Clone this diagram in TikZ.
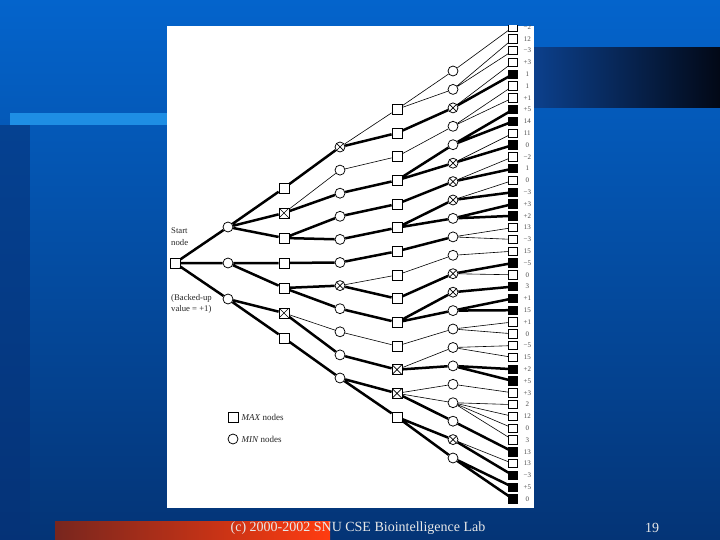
\documentclass[tikz,border=0pt]{standalone}
\usepackage{fontspec}
\setmainfont{Liberation Serif}
\usepackage{tikz}
\usetikzlibrary{positioning}

\definecolor{slidetop}{RGB}{4,100,204}
\definecolor{slidebot}{RGB}{4,52,118}
\definecolor{slideside}{RGB}{6,50,120}
\definecolor{barlight}{RGB}{30,142,228}
\definecolor{bardarkl}{RGB}{12,64,140}
\definecolor{bardarkr}{RGB}{2,8,22}
\definecolor{footl}{RGB}{120,38,30}
\definecolor{footr}{RGB}{255,60,16}
\definecolor{foottext}{RGB}{232,232,232}

\begin{document}
\begin{tikzpicture}[x=1pt,y=1pt,yscale=-1,
  maxn/.style={draw,line width=0.75pt,fill=white,rectangle,minimum size=10pt,inner sep=0pt},
  minn/.style={draw,line width=0.75pt,fill=white,circle,minimum size=10pt,inner sep=0pt},
  tipw/.style={maxn,minimum size=8.5pt},
  tipb/.style={maxn,minimum size=8.5pt,fill=black},
  xcut/.style={path picture={\draw [line width=0.7pt] (path picture bounding box.north west) -- (path picture bounding box.south east) (path picture bounding box.south west) -- (path picture bounding box.north east);}},
  thk/.style={line width=2.5pt},
  thn/.style={line width=0.6pt},
  val/.style={font=\fontsize{7}{7}\selectfont,text=black!70,inner sep=0pt,text width=12pt,align=center},
  note/.style={font=\fontsize{8.7}{11.5}\selectfont,align=left,inner sep=0pt,anchor=north west,text=black!85},
  legtext/.style={font=\fontsize{9}{10}\selectfont,inner sep=0pt,text=black!85},
  foot/.style={font=\fontsize{14}{14}\selectfont,text=foottext,inner sep=0pt}]
\useasboundingbox (0,0) rectangle (720,540);

%Shape: Slide background
\shade [top color=slidetop,bottom color=slidebot] (0,0) rectangle (720,540);
%Shape: Left strip
\fill [slideside,opacity=0.6] (0,125) rectangle (30,540);
%Shape: Light bar
\fill [barlight] (10,113) rectangle (167,125);
%Shape: Dark bar
\shade [left color=bardarkl,right color=bardarkr] (534,48) rectangle (720,108);
%Shape: Footer bar
\shade [left color=footl,right color=footr] (55,521) rectangle (330,540);
%Shape: Figure panel
\fill [white] (167,26) rectangle (534,508);

\begin{scope}
\clip (167,26) rectangle (534,508);

%Start node and MIN level 1
\node [maxn] (r) at (175,263) {};
\node [minn] (a1) at (228,227) {};
\node [minn] (a2) at (228,263) {};
\node [minn] (a3) at (228,299) {};

%MAX level 2
\node [maxn] (b1) at (284,188) {};
\node [maxn,xcut] (b2) at (284,213) {};
\node [maxn] (b3) at (284,238) {};
\node [maxn] (b4) at (284,263) {};
\node [maxn] (b5) at (284,288) {};
\node [maxn,xcut] (b6) at (284,313) {};
\node [maxn] (b7) at (284,338) {};

%MIN level 3
\node [minn,xcut] (c1) at (340,147) {};
\node [minn] (c2) at (340,170.1) {};
\node [minn] (c3) at (340,193.2) {};
\node [minn] (c4) at (340,216.3) {};
\node [minn] (c5) at (340,239.4) {};
\node [minn] (c6) at (340,262.5) {};
\node [minn,xcut] (c7) at (340,285.6) {};
\node [minn] (c8) at (340,308.7) {};
\node [minn] (c9) at (340,331.8) {};
\node [minn] (c10) at (340,354.9) {};
\node [minn] (c11) at (340,378) {};

%MAX level 4
\node [maxn] (d1) at (397,109.3) {};
\node [maxn] (d2) at (397,133) {};
\node [maxn] (d3) at (397,156.6) {};
\node [maxn] (d4) at (397,180.3) {};
\node [maxn] (d5) at (397,204) {};
\node [maxn] (d6) at (397,227.7) {};
\node [maxn] (d7) at (397,251.3) {};
\node [maxn] (d8) at (397,275) {};
\node [maxn] (d9) at (397,298.7) {};
\node [maxn] (d10) at (397,322.3) {};
\node [maxn] (d11) at (397,346) {};
\node [maxn,xcut] (d12) at (397,369.7) {};
\node [maxn,xcut] (d13) at (397,393.3) {};
\node [maxn] (d14) at (397,417) {};

%MIN level 5
\node [minn] (e1) at (453,71) {};
\node [minn] (e2) at (453,89.4) {};
\node [minn,xcut] (e3) at (453,107.9) {};
\node [minn] (e4) at (453,126.3) {};
\node [minn] (e5) at (453,144.7) {};
\node [minn,xcut] (e6) at (453,163.2) {};
\node [minn,xcut] (e7) at (453,181.6) {};
\node [minn,xcut] (e8) at (453,200) {};
\node [minn] (e9) at (453,218.4) {};
\node [minn] (e10) at (453,236.9) {};
\node [minn] (e11) at (453,255.3) {};
\node [minn,xcut] (e12) at (453,273.7) {};
\node [minn,xcut] (e13) at (453,292.2) {};
\node [minn] (e14) at (453,310.6) {};
\node [minn] (e15) at (453,329) {};
\node [minn] (e16) at (453,347.5) {};
\node [minn] (e17) at (453,365.9) {};
\node [minn] (e18) at (453,384.3) {};
\node [minn] (e19) at (453,402.7) {};
\node [minn] (e20) at (453,421.2) {};
\node [minn,xcut] (e21) at (453,439.6) {};
\node [minn] (e22) at (453,458) {};

%Tip nodes with their values
\node [tipw] (t1) at (513,27) {}; \node [val,right=3.5pt of t1] (v1) {−2};
\node [tipw] (t2) at (513,38.8) {}; \node [val,right=3.5pt of t2] (v2) {12};
\node [tipw] (t3) at (513,50.6) {}; \node [val,right=3.5pt of t3] (v3) {−3};
\node [tipw] (t4) at (513,62.4) {}; \node [val,right=3.5pt of t4] (v4) {+3};
\node [tipb] (t5) at (513,74.2) {}; \node [val,right=3.5pt of t5] (v5) {1};
\node [tipw] (t6) at (513,86) {}; \node [val,right=3.5pt of t6] (v6) {1};
\node [tipw] (t7) at (513,97.8) {}; \node [val,right=3.5pt of t7] (v7) {+1};
\node [tipb] (t8) at (513,109.6) {}; \node [val,right=3.5pt of t8] (v8) {+5};
\node [tipb] (t9) at (513,121.4) {}; \node [val,right=3.5pt of t9] (v9) {14};
\node [tipw] (t10) at (513,133.2) {}; \node [val,right=3.5pt of t10] (v10) {11};
\node [tipb] (t11) at (513,145) {}; \node [val,right=3.5pt of t11] (v11) {0};
\node [tipw] (t12) at (513,156.8) {}; \node [val,right=3.5pt of t12] (v12) {−2};
\node [tipb] (t13) at (513,168.6) {}; \node [val,right=3.5pt of t13] (v13) {1};
\node [tipw] (t14) at (513,180.4) {}; \node [val,right=3.5pt of t14] (v14) {0};
\node [tipb] (t15) at (513,192.2) {}; \node [val,right=3.5pt of t15] (v15) {−3};
\node [tipb] (t16) at (513,204) {}; \node [val,right=3.5pt of t16] (v16) {+3};
\node [tipb] (t17) at (513,215.8) {}; \node [val,right=3.5pt of t17] (v17) {+2};
\node [tipw] (t18) at (513,227.6) {}; \node [val,right=3.5pt of t18] (v18) {13};
\node [tipw] (t19) at (513,239.4) {}; \node [val,right=3.5pt of t19] (v19) {−3};
\node [tipw] (t20) at (513,251.2) {}; \node [val,right=3.5pt of t20] (v20) {15};
\node [tipb] (t21) at (513,263) {}; \node [val,right=3.5pt of t21] (v21) {−5};
\node [tipw] (t22) at (513,274.8) {}; \node [val,right=3.5pt of t22] (v22) {0};
\node [tipb] (t23) at (513,286.6) {}; \node [val,right=3.5pt of t23] (v23) {3};
\node [tipb] (t24) at (513,298.4) {}; \node [val,right=3.5pt of t24] (v24) {+1};
\node [tipb] (t25) at (513,310.2) {}; \node [val,right=3.5pt of t25] (v25) {15};
\node [tipw] (t26) at (513,322) {}; \node [val,right=3.5pt of t26] (v26) {+1};
\node [tipw] (t27) at (513,333.8) {}; \node [val,right=3.5pt of t27] (v27) {0};
\node [tipw] (t28) at (513,345.6) {}; \node [val,right=3.5pt of t28] (v28) {−5};
\node [tipw] (t29) at (513,357.4) {}; \node [val,right=3.5pt of t29] (v29) {15};
\node [tipb] (t30) at (513,369.2) {}; \node [val,right=3.5pt of t30] (v30) {+2};
\node [tipb] (t31) at (513,381) {}; \node [val,right=3.5pt of t31] (v31) {+5};
\node [tipw] (t32) at (513,392.8) {}; \node [val,right=3.5pt of t32] (v32) {+3};
\node [tipw] (t33) at (513,404.6) {}; \node [val,right=3.5pt of t33] (v33) {2};
\node [tipw] (t34) at (513,416.4) {}; \node [val,right=3.5pt of t34] (v34) {12};
\node [tipw] (t35) at (513,428.2) {}; \node [val,right=3.5pt of t35] (v35) {0};
\node [tipw] (t36) at (513,440) {}; \node [val,right=3.5pt of t36] (v36) {3};
\node [tipb] (t37) at (513,451.8) {}; \node [val,right=3.5pt of t37] (v37) {13};
\node [tipw] (t38) at (513,463.6) {}; \node [val,right=3.5pt of t38] (v38) {13};
\node [tipb] (t39) at (513,475.4) {}; \node [val,right=3.5pt of t39] (v39) {−3};
\node [tipb] (t40) at (513,487.2) {}; \node [val,right=3.5pt of t40] (v40) {+5};
\node [tipb] (t41) at (513,499) {}; \node [val,right=3.5pt of t41] (v41) {0};

%Edges start to level 3
\draw [thk] (r) -- (a1) (r) -- (a2) (r) -- (a3);
\draw [thk] (a1) -- (b1) (a1) -- (b2) (a1) -- (b3) (a2) -- (b4) (a2) -- (b5) (a3) -- (b6) (a3) -- (b7);
\draw [thk] (b1) -- (c1) (b2) -- (c3) (b3) -- (c4) (b3) -- (c5) (b4) -- (c6) (b5) -- (c7) (b5) -- (c8) (b6) -- (c10) (b7) -- (c11);
\draw [thn] (b2) -- (c2) (b6) -- (c9);

%Edges level 3 to level 4
\draw [thk] (c1) -- (d2) (c3) -- (d4) (c4) -- (d5) (c5) -- (d6) (c6) -- (d7) (c7) -- (d9) (c8) -- (d10) (c10) -- (d12) (c11) -- (d13) (c11) -- (d14);
\draw [thn] (c1) -- (d1) (c2) -- (d3) (c7) -- (d8) (c9) -- (d11);

%Edges level 4 to level 5
\draw [thk] (d2) -- (e3) (d4) -- (e5) (d4) -- (e6) (d5) -- (e7) (d6) -- (e8) (d6) -- (e9) (d7) -- (e10) (d9) -- (e12) (d10) -- (e13) (d10) -- (e14) (d12) -- (e17) (d13) -- (e20) (d14) -- (e21) (d14) -- (e22);
\draw [thn] (d1) -- (e1) (d1) -- (e2) (d3) -- (e4) (d8) -- (e11) (d11) -- (e15) (d12) -- (e16) (d13) -- (e18) (d13) -- (e19);

%Edges level 5 to tips
\draw [thk] (e3) -- (t5) (e5) -- (t8) (e5) -- (t9) (e6) -- (t11) (e7) -- (t13) (e8) -- (t15) (e9) -- (t16) (e9) -- (t17) (e12) -- (t21) (e13) -- (t23) (e14) -- (t24) (e14) -- (t25) (e17) -- (t30) (e17) -- (t31) (e20) -- (t37) (e21) -- (t39) (e22) -- (t40) (e22) -- (t41);
\draw [thn] (e1) -- (t1) (e2) -- (t2) (e2) -- (t3) (e3) -- (t4) (e4) -- (t6) (e4) -- (t7) (e6) -- (t10) (e7) -- (t12) (e8) -- (t14) (e10) -- (t18) (e10) -- (t19) (e11) -- (t20) (e12) -- (t22) (e15) -- (t26) (e15) -- (t27) (e16) -- (t28) (e16) -- (t29) (e18) -- (t32) (e19) -- (t33) (e19) -- (t34) (e19) -- (t35) (e19) -- (t36) (e21) -- (t38);

% Text Node
\node [note] (startlbl) at (171,228) {Start\\node};
% Text Node
\node [note] (backlbl) at (171,294) {(Backed-up\\value = +1)};

%Legend
\node [maxn] (lgmax) at (233,417) {};
\node [legtext,right=3pt of lgmax] (lgmaxt) {\textit{MAX} nodes};
\node [minn] (lgmin) at (233,439) {};
\node [legtext,right=3pt of lgmin] (lgmint) {\textit{MIN} nodes};
\end{scope}

% Text Node
\node [foot] (footer) at (358,528) {(c) 2000-2002 SNU CSE Biointelligence Lab};
% Text Node
\node [foot] (pgno) at (652,528) {19};
\end{tikzpicture}
\end{document}
